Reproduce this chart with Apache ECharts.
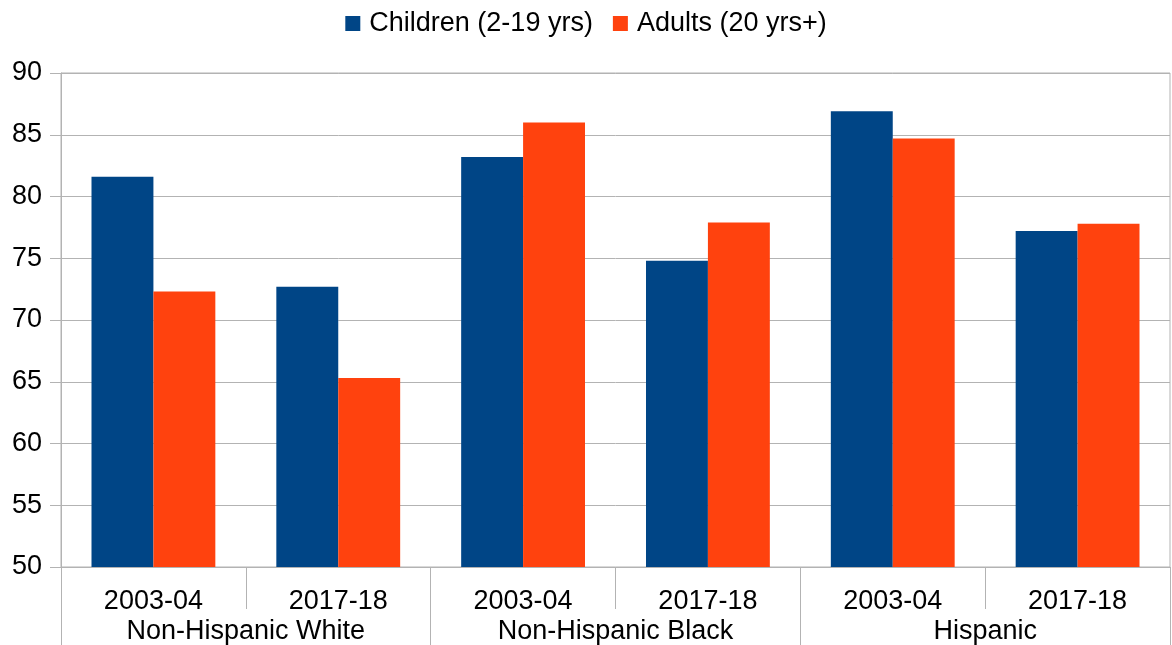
<!DOCTYPE html>
<html>
<head>
<meta charset="utf-8">
<style>
  html, body { margin: 0; padding: 0; background: #fff; }
  #chart { width: 1172px; height: 645px; }
</style>
<script src="https://cdn.jsdelivr.net/npm/echarts@6/dist/echarts.min.js"></script>
</head>
<body>
<div id="chart"></div>
<script>
// Survey periods within each group, and the groups themselves
const periods = ['2003-04', '2017-18', '2003-04', '2017-18', '2003-04', '2017-18'];
const groups = ['Non-Hispanic White', 'Non-Hispanic Black', 'Hispanic'];

// Values per period, in the same order as `periods`
const children = [81.6, 72.7, 83.2, 74.8, 86.9, 77.2];
const adults = [72.3, 65.3, 86.0, 77.9, 84.7, 77.8];

const seriesNames = ['Children (2-19 yrs)', 'Adults (20 yrs+)'];

const FONT = '"Liberation Sans", Arial, sans-serif';
const GRAY = '#b3b3b3';
const FS = 27;

const chart = echarts.init(document.getElementById('chart'), null, { renderer: 'canvas' });

chart.setOption({
  animation: false,
  textStyle: { fontFamily: FONT, color: '#000' },
  color: ['#004586', '#ff420e'],
  legend: {
    top: 5,
    left: 'center',
    icon: 'rect',
    itemWidth: 15,
    itemHeight: 15,
    itemGap: 20,
    textStyle: { fontFamily: FONT, fontSize: FS, color: '#000', padding: [0, 0, 0, 4] },
    data: seriesNames
  },
  grid: {
    left: 61, right: 2, top: 73, bottom: 77,
    show: true, borderColor: GRAY, borderWidth: 1,
    containLabel: false
  },
  xAxis: [
    {
      type: 'category',
      data: periods,
      position: 'bottom',
      boundaryGap: true,
      axisLine: { show: true, lineStyle: { color: GRAY, width: 1 } },
      axisTick: { show: true, length: 42, lineStyle: { color: GRAY } },
      axisLabel: { fontFamily: FONT, fontSize: FS, color: '#000', margin: 21, interval: 0 },
      splitLine: { show: false }
    },
    {
      type: 'category',
      data: groups,
      position: 'bottom',
      offset: 30,
      boundaryGap: true,
      axisLine: { show: false },
      axisTick: { show: true, length: 50, lineStyle: { color: GRAY } },
      axisLabel: { fontFamily: FONT, fontSize: FS, color: '#000', margin: 21, interval: 0 },
      splitLine: { show: false }
    }
  ],
  yAxis: {
    type: 'value',
    min: 50,
    max: 90,
    interval: 5,
    axisLine: { show: true, lineStyle: { color: GRAY } },
    axisTick: { show: true, length: 11, lineStyle: { color: GRAY } },
    axisLabel: { fontFamily: FONT, fontSize: FS, color: '#000', margin: 19 },
    splitLine: { show: true, lineStyle: { color: GRAY, width: 1 } }
  },
  series: [
    {
      name: seriesNames[0],
      type: 'bar',
      xAxisIndex: 0,
      data: children,
      barGap: '0%',
      barCategoryGap: '33%'
    },
    {
      name: seriesNames[1],
      type: 'bar',
      xAxisIndex: 0,
      data: adults,
      barGap: '0%',
      barCategoryGap: '33%'
    }
  ]
});
</script>
</body>
</html>
